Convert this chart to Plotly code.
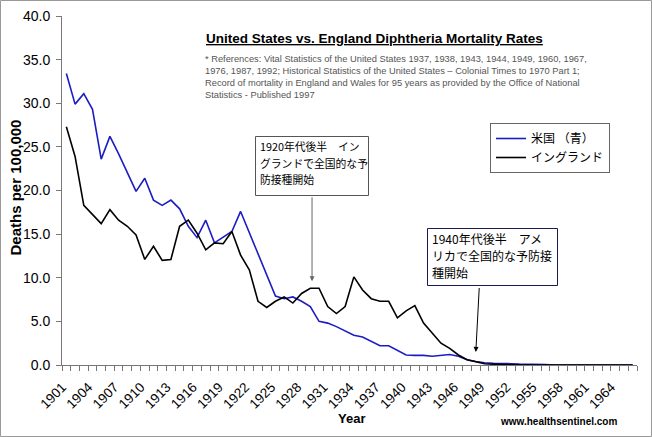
import plotly.graph_objects as go

years = list(range(1901, 1967))

us_rates = [33.4, 29.9, 31.1, 29.3, 23.6, 26.2, 24.2, 22.0, 19.9, 21.4,
            18.9, 18.3, 18.9, 17.9, 15.9, 14.6, 16.6, 14.0, 14.6, 15.3,
            17.6, 15.2, 12.8, 10.3, 7.9, 7.6, 7.8, 7.3, 6.7, 5.0,
            4.8, 4.4, 3.9, 3.4, 3.2, 2.7, 2.2, 2.2, 1.7, 1.15,
            1.1, 1.1, 1.0, 1.1, 1.2, 1.0, 0.6, 0.4, 0.25, 0.2,
            0.2, 0.15, 0.1, 0.1, 0.1, 0.05, 0.0, 0.0, 0.0, 0.0,
            0.0, 0.0, 0.0, 0.0, 0.0, 0.0]

england_rates = [27.3, 23.9, 18.3, 17.2, 16.2, 17.8, 16.6, 15.9, 14.9, 12.1,
                 13.6, 12.0, 12.1, 15.9, 16.6, 15.1, 13.2, 14.0, 13.9, 15.3,
                 12.6, 10.9, 7.3, 6.6, 7.3, 7.8, 7.1, 8.2, 8.8, 8.8,
                 6.7, 5.9, 6.7, 10.1, 8.6, 7.6, 7.3, 7.3, 5.4, 6.2,
                 6.8, 4.8, 3.6, 2.5, 1.9, 1.15, 0.6, 0.35, 0.15, 0.1,
                 0.05, 0.0, 0.0, 0.0, 0.0, 0.0, 0.0, 0.0, 0.0, 0.0,
                 0.0, 0.0, 0.0, 0.0, 0.0, 0.0]

tick_years = list(range(1901, 1967, 3))
tick_labels = [str(y) for y in tick_years]
y_ticks = [0, 5, 10, 15, 20, 25, 30, 35, 40]

box1_lines = ["1920年代後半　イン", "グランドで全国的な予", "防接種開始"]
box2_lines = ["1940年代後半　アメ", "リカで全国的な予防接", "種開始"]

FONT = "Liberation Sans, Arial, sans-serif"
JFONT = "Noto Sans CJK JP, sans-serif"

fig = go.Figure()
fig.add_trace(go.Scatter(x=years, y=us_rates, mode="lines", name="米国 （青）",
                         line=dict(color="#1c1cc4", width=1.6)))
fig.add_trace(go.Scatter(x=years, y=england_rates, mode="lines", name="イングランド",
                         line=dict(color="#000000", width=1.6)))

L, R, T, B = 62, 15, 16, 72
W, H = 652, 437
pw, ph = W - L - R, H - T - B

def px(x):
    return (x - L) / pw

def py(y):
    return (H - B - y) / ph

annotations = [
    dict(text="<b><u>United States vs. England Diphtheria Mortality Rates</u></b>",
         xref="paper", yref="paper", x=px(204), y=py(39), xanchor="left", yanchor="middle",
         showarrow=False, font=dict(family=FONT, size=13.5, color="#000")),
    dict(text="* References: Vital Statistics of the United States 1937, 1938, 1943, 1944, 1949, 1960, 1967,<br>"
              "1976, 1987, 1992; Historical Statistics of the United States – Colonial Times to 1970 Part 1;<br>"
              "Record of mortality in England and Wales for 95 years as provided by the Office of National<br>"
              "Statistics - Published 1997",
         xref="paper", yref="paper", x=px(203), y=py(52), xanchor="left", yanchor="top",
         align="left", showarrow=False, font=dict(family=FONT, size=9.3, color="#555")),
    dict(text="<b>Deaths per 100,000</b>", xref="paper", yref="paper", x=px(14.5), y=py(188),
         textangle=-90, showarrow=False, xanchor="center", yanchor="middle",
         font=dict(family=FONT, size=15, color="#000")),
    dict(text="<b>Year</b>", xref="paper", yref="paper", x=px(351), y=py(418),
         showarrow=False, xanchor="center", yanchor="middle",
         font=dict(family=FONT, size=13, color="#000")),
    dict(text="<b>www.healthsentinel.com</b>", xref="paper", yref="paper", x=px(558), y=py(421),
         showarrow=False, xanchor="center", yanchor="middle",
         font=dict(family=FONT, size=10, color="#000")),
    # arrows
    dict(text="", x=1929.2, y=9.6, ax=1929.2, ay=19.4, xref="x", yref="y", axref="x", ayref="y",
         showarrow=True, arrowhead=2, arrowsize=1, arrowwidth=1, arrowcolor="#666"),
    dict(text="", x=1948.0, y=1.5, ax=1948.4, ay=9.0, xref="x", yref="y", axref="x", ayref="y",
         showarrow=True, arrowhead=2, arrowsize=1, arrowwidth=1, arrowcolor="#000"),
]

for i, t in enumerate(box1_lines):
    annotations.append(dict(text=t, xref="paper", yref="paper", x=px(258), y=py(145.5 + 17 * i),
                            xanchor="left", yanchor="middle", showarrow=False,
                            font=dict(family=JFONT, size=10.8, color="#000")))
for i, t in enumerate(box2_lines):
    annotations.append(dict(text=t, xref="paper", yref="paper", x=px(429.5), y=py(238.5 + 16.8 * i),
                            xanchor="left", yanchor="middle", showarrow=False,
                            font=dict(family=JFONT, size=12, color="#000")))

shapes = [
    dict(type="rect", xref="paper", yref="paper",
         x0=px(0.5), x1=px(W - 0.5), y0=py(H - 0.5), y1=py(0.5),
         line=dict(color="#999", width=1), fillcolor="rgba(0,0,0,0)", layer="below"),
    dict(type="rect", xref="paper", yref="paper",
         x0=px(255.5), x1=px(368.5), y0=py(195.5), y1=py(136.5),
         line=dict(color="#555", width=1), fillcolor="white", layer="above"),
    dict(type="rect", xref="paper", yref="paper",
         x0=px(427.5), x1=px(557.5), y0=py(285.5), y1=py(228.5),
         line=dict(color="#1a1a55", width=1), fillcolor="white", layer="above"),
]

fig.update_layout(
    width=W, height=H,
    margin=dict(l=L, r=R, t=T, b=B, autoexpand=False),
    paper_bgcolor="white", plot_bgcolor="white",
    font=dict(family=FONT, size=13, color="#000"),
    showlegend=True,
    legend=dict(x=px(490), y=py(123), xanchor="left", yanchor="top",
                bordercolor="#666", borderwidth=1, bgcolor="white",
                font=dict(family=JFONT, size=12), tracegroupgap=0, itemwidth=30),
    xaxis=dict(range=[1900.5, 1966.5], tickmode="array", tickvals=tick_years, ticktext=tick_labels,
               tickangle=-45, ticks="", showgrid=False, zeroline=False, automargin=False,
               showline=True, linecolor="#777", linewidth=1,
               ticklabelstandoff=8, ticklabelshift=-4,
               minor=dict(tickmode="linear", tick0=1900.5, dtick=1, ticks="outside",
                          ticklen=5, tickcolor="#777", showgrid=False),
               tickfont=dict(family=FONT, size=13.5)),
    yaxis=dict(range=[0, 40], tickmode="array", tickvals=y_ticks, automargin=False,
               ticktext=[f"{v:.1f}" for v in y_ticks], ticks="outside", ticklen=5,
               tickcolor="#777", showgrid=False, zeroline=False, ticklabelstandoff=3,
               showline=True, linecolor="#777", linewidth=1,
               tickfont=dict(family=FONT, size=14)),
    annotations=annotations,
    shapes=shapes,
)

fig.write_html("out.html", config={"displayModeBar": False},
               post_script="document.body.style.margin='0';document.body.style.padding='0';")
